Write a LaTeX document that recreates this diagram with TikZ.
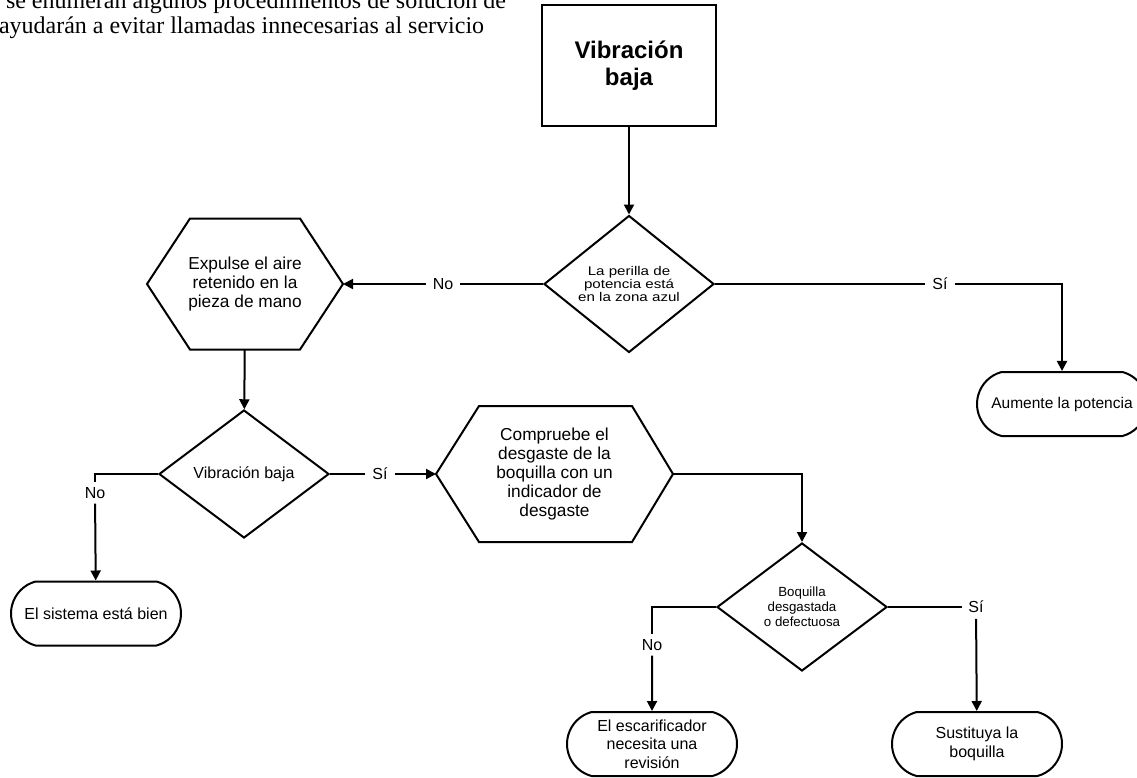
\documentclass[tikz,border=0pt]{standalone}
\usepackage{fontspec}
\setmainfont{Liberation Sans}
\newfontfamily\timesfont{Liberation Serif}
\newfontfamily\widefont[FakeStretch=1.2]{Liberation Sans}
\usetikzlibrary{calc,shapes.geometric,shapes.misc,arrows.meta}

\begin{document}
\begin{tikzpicture}[x=1pt,y=-1pt,
    titlebox/.style={draw, minimum width=174pt, minimum height=121pt, align=center,
      font=\bfseries\fontsize{24}{27}\selectfont},
    decision/.style={diamond, draw, inner sep=0pt, minimum width=170pt,
      minimum height=128pt, align=center},
    action/.style={inner sep=0pt, align=center, font=\fontsize{17.3}{19}\selectfont},
    endbox/.style={rounded rectangle, rounded rectangle arc length=150, draw,
      inner sep=0pt, minimum width=170pt, minimum height=64pt, align=center,
      font=\fontsize{16}{18.5}\selectfont},
    answer/.style={inner sep=6pt, font=\fontsize{16}{18}\selectfont},
    line width=2pt, >={Triangle[length=10pt,width=10pt]}]
    \useasboundingbox (0,0) rectangle (1137,777);
    % text above the chart
    \node[anchor=base west, inner sep=0pt, font=\timesfont\fontsize{24}{25}\selectfont]
      (L1) at (5,8) {se enumeran algunos procedimientos de solución de};
    \node[anchor=base west, inner sep=0pt, font=\timesfont\fontsize{24}{25}\selectfont]
      (L2) at (-2,33) {ayudarán a evitar llamadas innecesarias al servicio};
    % steps
    \node[titlebox] (T) at (629,65.5) {Vibración\\baja};
    \node[decision, minimum height=132pt, font=\widefont\fontsize{12.6}{13}\selectfont]
      (D1) at (629,284) {La perilla de\\potencia está\\en la zona azul};
    \node[action, minimum width=194pt, minimum height=129pt] (H1) at (245,284)
      {Expulse el aire\\retenido en la\\pieza de mano};
    \node[decision, font=\fontsize{16}{19}\selectfont] (D2) at (244,474) {Vibración baja};
    \node[action, minimum width=235pt, minimum height=134pt] (H2) at (554.5,474)
      {Compruebe el\\desgaste de la\\boquilla con un\\indicador de\\desgaste};
    \node[decision, font=\fontsize{13.3}{15}\selectfont] (D3) at (802,607)
      {Boquilla\\desgastada\\o defectuosa};
    \node[endbox, font=\fontsize{15.5}{18}\selectfont] (E2) at (1062,404) {Aumente la potencia};
    \node[endbox] (E1) at (96,613.5) {El sistema está bien};
    \node[endbox] (E3) at (652,744) {El escarificador\\necesita una\\revisión};
    \node[endbox] (E4) at (977,744) {Sustituya la\\boquilla};
    % hexagons
    \draw (H1.west) -- ($(H1.north west)+(43,0)$) -- ($(H1.north east)+(-43,0)$)
      -- (H1.east) -- ($(H1.south east)+(-43,0)$) -- ($(H1.south west)+(43,0)$) -- cycle;
    \draw (H2.west) -- ($(H2.north west)+(43,0)$) -- ($(H2.north east)+(-41,0)$)
      -- (H2.east) -- ($(H2.south east)+(-41,0)$) -- ($(H2.south west)+(43,0)$) -- cycle;
    % answers
    \node[answer] (no1) at (443,284) {No};
    \node[answer] (si1) at (940,284) {Sí};
    \node[answer] (si2) at (380,474) {Sí};
    \node[answer, inner sep=4pt] (no2) at (95,493) {No};
    \node[answer, inner sep=4pt] (no3) at (652,645) {No};
    \node[answer, inner sep=5pt] (si3) at (976,607) {Sí};
    % connectors
    \draw[->] (T) -- (D1);
    \draw (D1) -- (no1);
    \draw[->] (no1) -- (H1.east);
    \draw (D1) -- (si1);
    \draw[->] (si1.east) -| (E2);
    \draw[->] (H1) -- (D2);
    \draw (D2) -- (si2);
    \draw[->] (si2) -- (H2.west);
    \draw (D2.west) -| (no2);
    \draw[->] (no2) -- (E1);
    \draw[->] (H2.east) -| (D3);
    \draw (D3.west) -| (no3);
    \draw[->] (no3) -- (E3);
    \draw (D3) -- (si3);
    \draw[->] (si3) -- (E4);
\end{tikzpicture}
\end{document}
